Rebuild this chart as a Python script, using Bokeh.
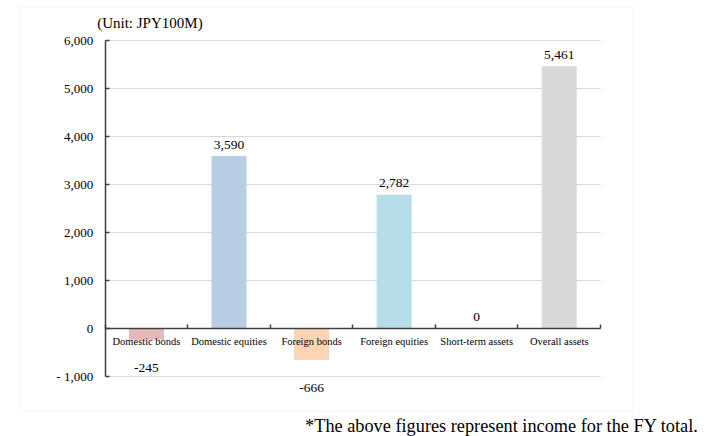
from bokeh.plotting import figure
from bokeh.models import (ColumnDataSource, Range1d, LinearAxis, FixedTicker, Grid,
                          Label, BoxAnnotation, CustomJSTickFormatter)
from bokeh.embed import file_html
from bokeh.resources import INLINE
from bokeh.core.properties import value

# ---------------- data ----------------
categories = ["Domestic bonds", "Domestic equities", "Foreign bonds",
              "Foreign equities", "Short-term assets", "Overall assets"]
income = [-245, 3590, -666, 2782, 0, 5461]
bar_colors = ["#e6b9b8", "#b9cde5", "#fcd5b5", "#b7dee8", "#ccc0da", "#d9d9d9"]
y_ticks = [-1000, 0, 1000, 2000, 3000, 4000, 5000, 6000]
unit_label = "(Unit: JPY100M)"
footnote = "*The above figures represent income for the FY total."

FONT = "Liberation Serif"
n = len(categories)
centers = [i + 0.5 for i in range(n)]
boundaries = list(range(n + 1))

# ---------------- layout (pixels, figure coordinates) ----------------
W, H = 706, 436
fl, fr, ft, fb = 20, 706, 6, 436          # frame edges
box_r, box_b = 632, 410                   # outer box right / bottom
ax_x0, ax_x1 = 104.7, 600.0               # x=0 .. x=n
y_hi_px, y_lo_px = 40.0, 375.5            # 6000 .. -1000
y_hi, y_lo = y_ticks[-1], y_ticks[0]

ppx = (ax_x1 - ax_x0) / n
x_start = -(ax_x0 - fl) / ppx
x_end = n + (fr - ax_x1) / ppx
ppy = (y_lo_px - y_hi_px) / (y_hi - y_lo)
y_end = y_hi + (y_hi_px - ft) / ppy
y_start = y_lo - (fb - y_lo_px) / ppy

p = figure(width=W, height=H, output_backend="svg", toolbar_location=None,
           x_range=Range1d(x_start, x_end), y_range=Range1d(y_start, y_end),
           x_axis_type=None, y_axis_type=None,
           min_border_left=fl, min_border_right=W - fr,
           min_border_top=ft, min_border_bottom=H - fb)
p.outline_line_color = None
p.background_fill_color = "white"
p.border_fill_color = "white"

# outer box (screen units relative to the frame's bottom-left)
p.add_layout(BoxAnnotation(left=0.5, right=box_r - fl + 0.5,
                           bottom=fb - box_b - 0.5, top=fb - ft - 0.5,
                           left_units="screen", right_units="screen",
                           bottom_units="screen", top_units="screen",
                           fill_color=None, line_color="#d9d9d9", line_width=1,
                           level="underlay"))

# grid
ygrid = Grid(dimension=1, ticker=FixedTicker(ticks=y_ticks),
             bounds=(y_lo, y_hi), cross_bounds=(0, n),
             grid_line_color="#d9d9d9", grid_line_width=1)
p.add_layout(ygrid)

# bars
src = ColumnDataSource(dict(
    x=centers, top=income, color=bar_colors,
    lbl=["{:,}".format(v) for v in income],
    off=[-11.5 if v >= 0 else 28 for v in income],
))
p.vbar(x="x", top="top", bottom=0, width=35 / ppx, fill_color="color",
       line_color=None, source=src)
p.text(x="x", y="top", text="lbl", y_offset="off", source=src,
       text_font=value(FONT), text_font_size="13.5px", text_color="#000000",
       text_align="center", text_baseline="middle")

# y axis
yaxis = LinearAxis(fixed_location=0, bounds=(y_lo, y_hi),
                   ticker=FixedTicker(ticks=y_ticks, minor_ticks=[]),
                   formatter=CustomJSTickFormatter(code="""
                       return (tick < 0 ? '- ' : '') + Math.abs(tick).toLocaleString('en-US');
                   """))
yaxis.axis_line_color = "#404040"
yaxis.axis_line_width = 1.5
yaxis.major_tick_line_color = "#404040"
yaxis.major_tick_line_width = 1.5
yaxis.major_tick_in = 4
yaxis.major_tick_out = 0
yaxis.minor_tick_line_color = None
yaxis.major_label_standoff = 12
yaxis.major_label_text_font = FONT
yaxis.major_label_text_font_size = "13px"
yaxis.major_label_text_color = "#000000"
p.add_layout(yaxis, "left")

# x axis
xaxis = LinearAxis(fixed_location=0, bounds=(0, n),
                   ticker=FixedTicker(ticks=centers, minor_ticks=boundaries),
                   formatter=CustomJSTickFormatter(args=dict(cats=categories),
                                                   code="return cats[Math.floor(tick)];"))
xaxis.axis_line_color = "#404040"
xaxis.axis_line_width = 1.5
xaxis.major_tick_line_color = None
xaxis.major_tick_in = 0
xaxis.major_tick_out = 0
xaxis.minor_tick_line_color = "#404040"
xaxis.minor_tick_line_width = 1.5
xaxis.minor_tick_in = 4
xaxis.minor_tick_out = 0
xaxis.major_label_standoff = 8
xaxis.major_label_text_font = FONT
xaxis.major_label_text_font_size = "10.5px"
xaxis.major_label_text_color = "#000000"
p.add_layout(xaxis, "below")

# unit label and footnote (screen units relative to frame bottom-left)
p.add_layout(Label(x=76.7, y=fb - 22, x_units="screen", y_units="screen",
                   text=unit_label, text_font=FONT, text_font_size="15px",
                   text_color="#000000", text_align="left", text_baseline="middle"))
p.add_layout(Label(x=698 - fl, y=fb - 425.5, x_units="screen", y_units="screen",
                   text=footnote, text_font=FONT, text_font_size="18.3px",
                   text_color="#000000", text_align="right",
                   text_baseline="middle"))

open("out.html", "w").write(file_html(p, INLINE))
